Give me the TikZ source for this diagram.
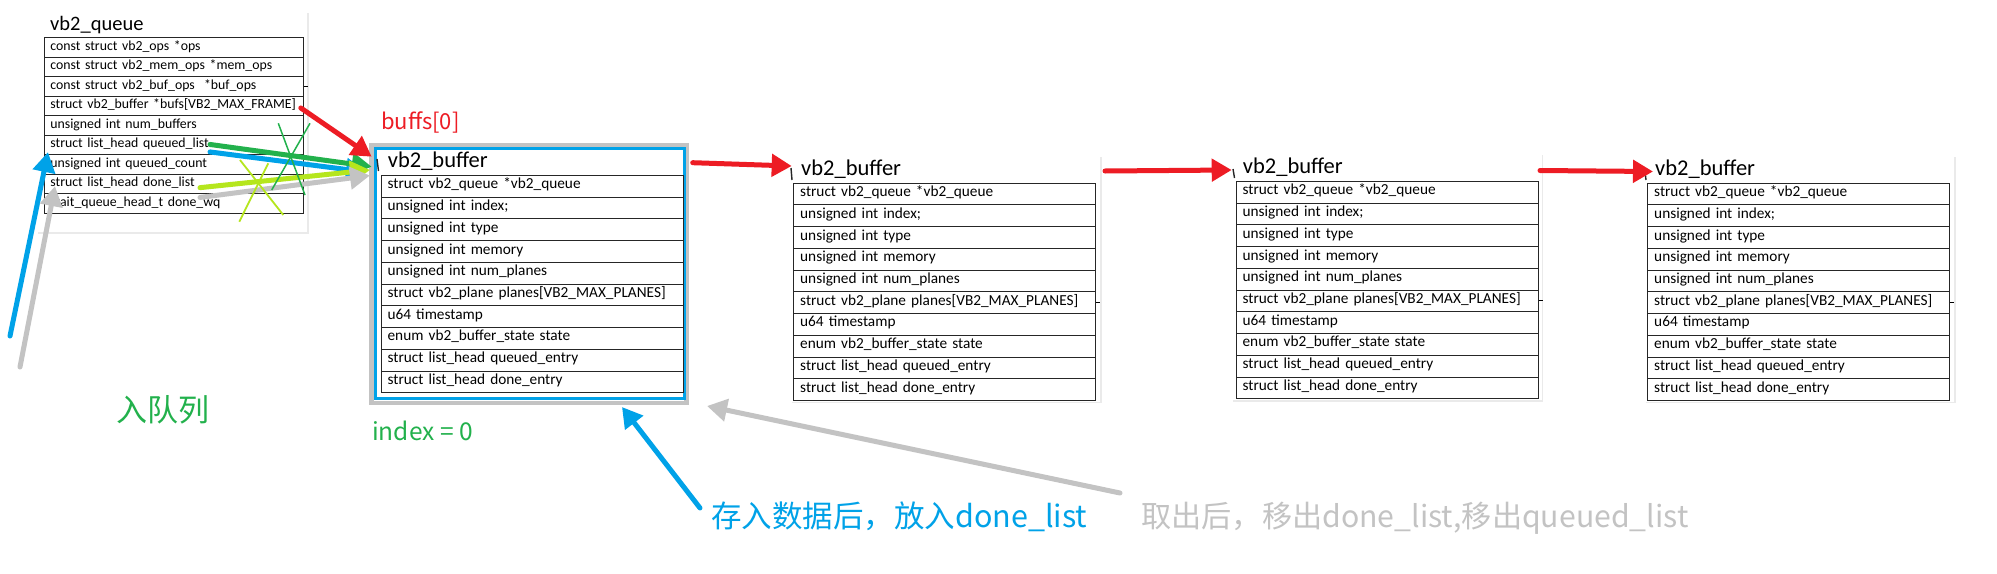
\documentclass[tikz,border=0pt]{standalone}
\usepackage{fontspec}
\setmainfont{Carlito}
\newfontfamily\cjk{Noto Sans CJK SC}
\usetikzlibrary{arrows.meta,shadows}
\definecolor{xred}{HTML}{ED1C24}
\definecolor{xgreen}{HTML}{22B14C}
\definecolor{xblue}{HTML}{00A2E8}
\definecolor{xlime}{HTML}{B5E61D}
\definecolor{xgray}{HTML}{C3C3C3}

\newcommand{\vbtable}[3]{%
  \foreach \rtext [count=\ri] in {{struct vb2\_queue *vb2\_queue},{unsigned int index;},{unsigned int type},{unsigned int memory},{unsigned int num\_planes},{struct vb2\_plane planes[VB2\_MAX\_PLANES]},{u64 timestamp},{enum vb2\_buffer\_state state},{struct list\_head queued\_entry},{struct list\_head done\_entry}}{%
    \node[brow] (#1r\ri) at (#2,{#3+(\ri-1)*21.73}) {\rtext};
  }%
}

\begin{document}
\begin{tikzpicture}[x=1pt,y=-1pt,
  card/.style={fill=white, draw=none, inner sep=0pt, outer sep=0pt, anchor=north west,
    drop shadow={shadow xshift=1.5pt,shadow yshift=-1.5pt,opacity=0.18,fill=black!45}},
  qrow/.style={draw=black!85, line width=0.8pt, anchor=north west, text width=247pt,
    inner xsep=6pt, inner ysep=0pt, minimum height=19.5pt, align=left,
    font=\fontsize{13.8}{15}\selectfont, text height=0.75em, text depth=0.21em},
  brow/.style={draw=black!85, line width=0.8pt, anchor=north west, text width=289pt,
    inner xsep=6.5pt, inner ysep=0pt, minimum height=21.73pt, align=left,
    font=\fontsize{15.3}{17}\selectfont, text height=0.75em, text depth=0.23em},
  ttl/.style={anchor=base west, inner sep=0pt, font=\fontsize{22.5}{26}\selectfont},
  tickmark/.style={black, line width=0.9pt},
  glyphmark/.style={black!85, line width=1.4pt},
  fat/.style={line width=5pt, line cap=round, -{Triangle[length=20pt,width=22pt]}},
  lbl/.style={anchor=base west, inner sep=0pt},
]
\fill[white] (0,0) rectangle (1997,573);
\useasboundingbox (0,0) rectangle (1997,573);

% ---------- vb2_queue ----------
\node[card, minimum width=271pt, minimum height=221pt] (qcard) at (36,11) {};
\node[ttl, font=\fontsize{20.5}{24}\selectfont] (qtitle) at (50,30.7) {vb2\_queue};
\foreach \rtext [count=\ri] in {{const struct vb2\_ops *ops},{const struct vb2\_mem\_ops *mem\_ops},{const struct vb2\_buf\_ops\ \ *buf\_ops},{struct vb2\_buffer *bufs[VB2\_MAX\_FRAME]},{unsigned int num\_buffers},{struct list\_head queued\_list},{unsigned int queued\_count},{struct list\_head done\_list},{wait\_queue\_head\_t done\_wq}}{%
  \node[qrow] (q\ri) at (44,{37.3+(\ri-1)*19.5}) {\rtext};
}
\draw[tickmark] (q3.east) -- ++(4,0);

% ---------- vb2_buffer 1 (highlighted) ----------
\node[anchor=north west, inner sep=0pt, outer sep=0pt, minimum width=315pt, minimum height=257.5pt,
  draw=xgray, line width=4.5pt, fill=white] (c1) at (371.5,145.5) {};
\node[anchor=north west, inner sep=0pt, outer sep=0pt, minimum width=309.2pt, minimum height=250.2pt,
  draw=xblue, line width=3pt] (c1b) at (375,148.5) {};
\node[ttl] (t1) at (387.7,167.7) {vb2\_buffer};
\vbtable{b1}{380.7}{175}
\draw[glyphmark] (377,159) -- (378.5,171);

% ---------- vb2_buffer 2 ----------
\node[card, minimum width=310pt, minimum height=246.7pt] (c2) at (790,155) {};
\node[ttl] (t2) at (801,175.7) {vb2\_buffer};
\vbtable{b2}{793.3}{182.7}
\draw[tickmark] (b2r6.east) -- ++(4,0);
\draw[glyphmark] (791,168) -- (792,180);

% ---------- vb2_buffer 3 ----------
\node[card, minimum width=310pt, minimum height=246.7pt] (c3) at (1231.7,153.3) {};
\node[ttl] (t3) at (1242.7,173.3) {vb2\_buffer};
\vbtable{b3}{1235.7}{181}
\draw[tickmark] (b3r6.east) -- ++(4,0);
\draw[glyphmark] (1233,169) -- (1234.5,178);

% ---------- vb2_buffer 4 ----------
\node[card, minimum width=310pt, minimum height=246.7pt] (c4) at (1644,155) {};
\node[ttl] (t4) at (1655,175) {vb2\_buffer};
\vbtable{b4}{1647.3}{182.7}
\draw[tickmark] (b4r6.east) -- ++(4,0);
\draw[glyphmark] (1645,172) -- (1646,180);

% ---------- labels ----------
\node[lbl, text=xred, font=\cjk\fontsize{22}{26}\selectfont] (lbuf) at (381,129) {buffs[0]};
\node[inner sep=0pt, text=xgreen, font=\cjk\fontsize{31}{36}\selectfont] (lq) at (163,410) {入队列};
\node[lbl, text=xgreen, font=\cjk\fontsize{24.5}{28}\selectfont] (lidx) at (372,440) {index = 0};
\node[lbl, text=xblue, font=\cjk\fontsize{30.5}{36}\selectfont] (lblue) at (711,527) {存入数据后，放入done\_list};
\node[lbl, text=xgray, font=\cjk\fontsize{30.2}{36}\selectfont] (lgray) at (1141,527) {取出后，移出done\_list,移出queued\_list};

% ---------- arrows from vb2_queue into buffer 1 ----------
\draw[fat, xblue] ([shift={(166,7)}]q6.west) -- ([shift={(-5.5,26.5)}]c1.north west);
\draw[fat, xgreen] ([shift={(166,-0.5)}]q6.west) -- ([shift={(0.2,21.2)}]c1.north west);
\draw[fat, xlime] ([shift={(156,3.7)}]q8.west) -- ([shift={(-1.5,24.5)}]c1.north west);
\draw[fat, xgray] ([shift={(156,-6)}]q9.west) -- ([shift={(-1.5,30)}]c1.north west);
\draw[fat, xred] ([shift={(-3,2)}]q4.east) -- ([shift={(0.2,11.2)}]c1.north west);

% ---------- left arrows ----------
\coordinate (bl) at (10,336);
\coordinate (gl) at (20,367);
\draw[fat, xblue] (bl) -- ([shift={(4,-3)}]q6.south west);
\draw[fat, xgray] (gl) -- ([shift={(11,-8)}]q8.south west);

% ---------- bottom arrows ----------
\draw[fat, xblue] ([shift={(-11,-19)}]lblue.base west) -- ([shift={(93,4)}]c1.south);
\draw[fat, xgray] ([shift={(-21,-34)}]lgray.base west) -- ([shift={(20.5,3)}]c1.south east);

% ---------- chain of buffers ----------
\draw[fat, xred] ([shift={(6.2,17.2)}]c1.north east) -- ([shift={(1.7,11)}]c2.north west);
\draw[fat, xred] ([shift={(5,16)}]c2.north east) -- ([shift={(0,16.7)}]c3.north west);
\draw[fat, xred] ([shift={(-1.7,17.2)}]c3.north east) -- ([shift={(9,16.5)}]c4.north west);

% ---------- crossing marks ----------
\draw[xgreen, line width=1.5pt] (278.3,123.3) -- (305,195);
\draw[xgreen, line width=1.5pt] (310,123.3) -- (271.7,190);
\draw[xlime, line width=1.8pt] (240,160) -- (283.3,215);
\draw[xlime, line width=1.8pt] (268.3,163.3) -- (239.3,221.7);
\end{tikzpicture}
\end{document}
